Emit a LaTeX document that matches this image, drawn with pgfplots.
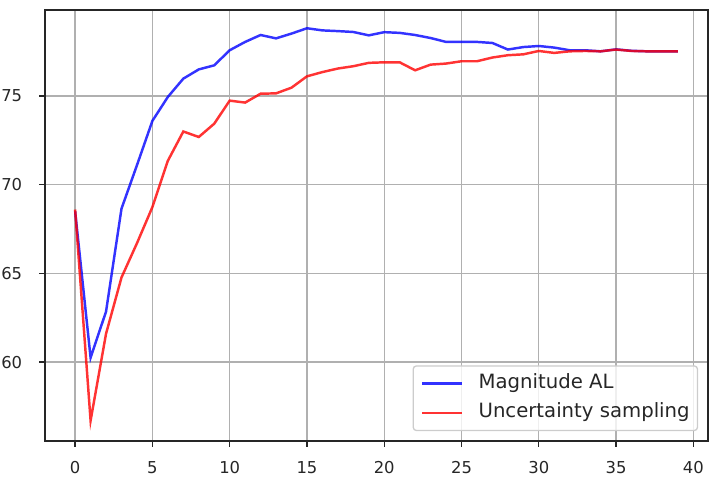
\documentclass[border=0pt]{standalone}
\usepackage{fontspec}
\setmainfont{DejaVu Sans}
\usepackage{pgfplots}
\pgfplotsset{compat=1.18}
\definecolor{mblue}{rgb}{0,0,1}
\definecolor{mred}{rgb}{1,0,0}
\definecolor{gridc}{HTML}{B0B0B0}
\definecolor{legc}{HTML}{CCCCCC}
\begin{document}
\begin{tikzpicture}
\begin{axis}[
  at={(0,0)}, anchor=south west,
  scale only axis,
  width=404.4pt, height=262.9pt,
  xmin=-1.95, xmax=40.95,
  ymin=55.55, ymax=79.85,
  xtick={0,5,...,40},
  ytick={60,65,70,75},
  grid=major,
  major grid style={draw=gridc, line width=0.8pt},
  axis line style={draw=black!85, line width=0.8pt},
  tick align=outside,
  major tick length=3.5pt,
  tick style={draw=black!85, line width=0.8pt},
  xtick pos=bottom, ytick pos=left,
  /pgf/number format/assume math mode=true,
  tick label style={font=\fontsize{10}{12}\selectfont, text=black!85},
  xticklabel style={yshift=-5.2pt},
  yticklabel style={xshift=-6.9pt},
  legend cell align=left,
  legend style={
    at={(1,0)}, anchor=south east, xshift=-6pt, yshift=6pt,
    draw=legc, rounded corners=2pt, line width=0.8pt,
    fill=white, fill opacity=0.8, text opacity=1,
    font=\fontsize{12}{14.4}\selectfont, text=black!85,
    inner xsep=4.8pt, inner ysep=4.8pt,
    nodes={inner sep=0pt, text height=9pt, text depth=2.9pt},
    row sep=6pt,
    /tikz/every odd column/.append style={column sep=9.6pt},
  },
  legend image code/.code={
    \draw[#1] (0pt,0pt) -- (24pt,0pt);
  },
]
\addplot[draw=mblue, draw opacity=0.8, line width=1.5pt] coordinates {
(0,68.5) (1,60.25) (2,62.85) (3,68.65) (4,71.1) (5,73.6) (6,74.95) (7,75.98)
(8,76.5) (9,76.73) (10,77.58) (11,78.05) (12,78.44) (13,78.25) (14,78.52)
(15,78.82) (16,78.7) (17,78.66) (18,78.61) (19,78.42) (20,78.6) (21,78.56)
(22,78.44) (23,78.27) (24,78.05) (25,78.05) (26,78.05) (27,77.99) (28,77.62)
(29,77.76) (30,77.82) (31,77.73) (32,77.58) (33,77.58) (34,77.52) (35,77.63)
(36,77.55) (37,77.52) (38,77.52) (39,77.52)
};
\addlegendentry{Magnitude AL}
\addplot[draw=mred, draw opacity=0.8, line width=1.5pt] coordinates {
(0,68.6) (1,56.7) (2,61.6) (3,64.77) (4,66.7) (5,68.74) (6,71.35) (7,73.0)
(8,72.69) (9,73.44) (10,74.74) (11,74.63) (12,75.13) (13,75.15) (14,75.47)
(15,76.11) (16,76.35) (17,76.55) (18,76.68) (19,76.87) (20,76.9) (21,76.9)
(22,76.45) (23,76.77) (24,76.83) (25,76.96) (26,76.96) (27,77.17) (28,77.3)
(29,77.35) (30,77.54) (31,77.43) (32,77.52) (33,77.54) (34,77.52) (35,77.62)
(36,77.54) (37,77.52) (38,77.52) (39,77.52)
};
\addlegendentry{Uncertainty sampling}
\end{axis}
\pgfresetboundingbox
\path (-27.45pt,-21.96pt) rectangle (405.62pt,269.0pt);
\end{tikzpicture}
\end{document}
